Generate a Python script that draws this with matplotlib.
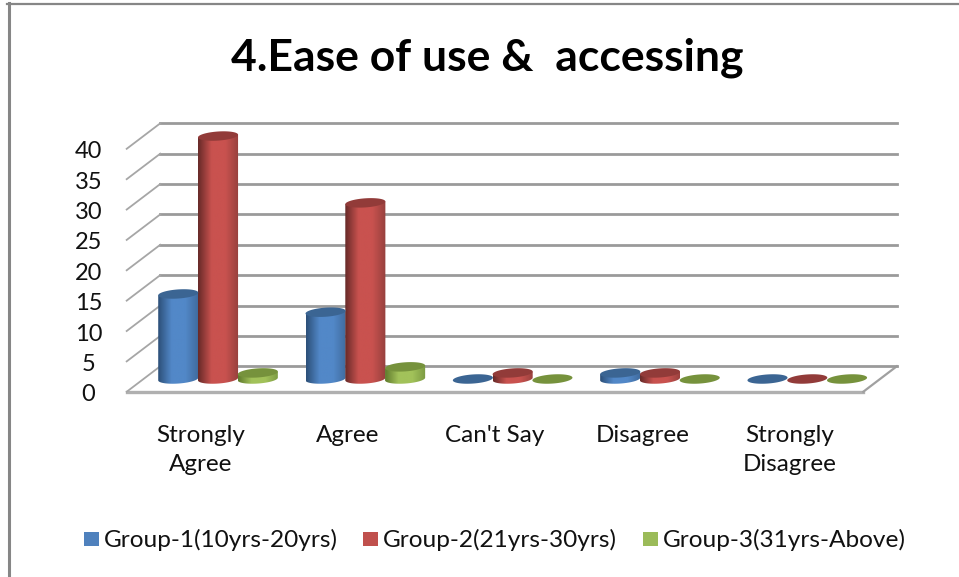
import numpy as np
import matplotlib
matplotlib.use("Agg")
import matplotlib.pyplot as plt
from matplotlib.colors import LinearSegmentedColormap
from matplotlib.patches import Polygon

categories = ["Strongly\nAgree", "Agree", "Can't Say", "Disagree", "Strongly\nDisagree"]
group_names = ["Group-1(10yrs-20yrs)", "Group-2(21yrs-30yrs)", "Group-3(31yrs-Above)"]
group_1 = [14, 11, 0, 1, 0]
group_2 = [40, 29, 1, 1, 0]
group_3 = [1, 2, 0, 0, 0]
y_ticks = [0, 5, 10, 15, 20, 25, 30, 35, 40]

title_text = "4.Ease of use &  accessing"

# shades for each cylinder: left edge, middle, right edge, top cap
palette = [
    ("#2c4f78", "#5288c8", "#3f6a9c", "#3b6593"),
    ("#672a28", "#c9524f", "#96403d", "#923b39"),
    ("#5f7a2c", "#a2c25a", "#7b9a42", "#76923c"),
]
legend_colors = ["#4f81bd", "#c0504d", "#9bbb59"]

plt.rcParams["font.family"] = ["Lato", "DejaVu Sans"]

fig = plt.figure(figsize=(9.59, 5.77), dpi=100, facecolor="white")
ax = fig.add_axes([0, 0, 1, 1])
ax.axis("off")

# 3d look: the back wall is shifted from the front edge
depth_x = 0.228
depth_y = 2.1
wall_left = -0.62
wall_right = 4.38
front_y = -2.1
grid_color = "#9a9a9a"

# floor
ax.plot([wall_left, wall_right], [front_y, front_y], color="#b0b0b0", lw=2.4, zorder=1)
ax.plot([wall_right, wall_right + depth_x], [front_y, front_y + 2 * depth_y],
        color="#a0a0a0", lw=1.6, zorder=1)

# wall gridlines and the slanted ticks on the left
for v in y_ticks:
    back_y = v + depth_y
    ax.plot([wall_left + depth_x, wall_right + depth_x], [back_y, back_y],
            color=grid_color, lw=2.0, zorder=1)
    ax.plot([wall_left, wall_left + depth_x], [v + front_y, back_y],
            color="#a6a6a6", lw=1.3, zorder=1)
    ax.text(wall_left - 0.26, v + front_y - 0.5, str(v), fontsize=17, color="#111111",
            ha="center", va="center")


def draw_cylinder(x, value, colors, width=0.272):
    left_col, mid, right_col, cap = colors
    half = width / 2
    t = np.linspace(0, 2 * np.pi, 120)
    ex = x + half * np.cos(t)
    # slightly tilted ellipse, right side sits higher
    ey = 0.75 * np.sin(t) + 0.22 * np.cos(t)
    if value > 0:
        lower = np.linspace(np.pi, 2 * np.pi, 60)
        px = np.r_[x + half * np.cos(lower), x + half, x - half]
        py = np.r_[0.75 * np.sin(lower) + 0.22 * np.cos(lower),
                   value + 0.22, value - 0.22]
        body = Polygon(np.c_[px, py], closed=True, fc="none", ec="none", zorder=3)
        ax.add_patch(body)
        cmap = LinearSegmentedColormap.from_list("cyl", [left_col, mid, mid, right_col])
        grad = np.linspace(0, 1, 200).reshape(1, -1)
        img = ax.imshow(grad, cmap=cmap, aspect="auto", zorder=3,
                        extent=(x - half, x + half, -1.5, value + 1))
        img.set_clip_path(body)
    ax.add_patch(Polygon(np.c_[ex, value + ey], closed=True, fc=cap, ec="none", zorder=3.1))


for i in range(len(categories)):
    for off, series, colors in zip([-1, 0, 1], [group_1, group_2, group_3], palette):
        draw_cylinder(i + off * 0.27, series[i], colors)

# imshow resets the limits, so they go last
ax.set_xlim(-1.48, 5.03)
ax.set_ylim(-32.6, 62.4)

# category labels under the floor
for i, name in enumerate(categories):
    ax.text(i - 0.12, -7.5, name, fontsize=17.5, color="#111111", ha="center", va="top",
            linespacing=1.5)

fig.text(487 / 959, 0.9, title_text, fontsize=32, fontweight="bold", color="black",
         ha="center", va="center")

# legend along the bottom
legend_x = [84, 363, 643]
for lx, name, col in zip(legend_x, group_names, legend_colors):
    fig.patches.append(plt.Rectangle((lx / 959, 1 - 546 / 577), 14.5 / 959, 14.5 / 577,
                                     transform=fig.transFigure, fc=col, ec="none"))
    fig.text((lx + 19.5) / 959, 1 - 540 / 577, name, fontsize=17.6, color="#111111", va="center")

# outer chart border
fig.add_artist(plt.Line2D([8.5 / 959, 8.5 / 959], [0, 1 - 3 / 577], color="#868686", lw=2.2))
fig.add_artist(plt.Line2D([7 / 959, 1], [1 - 4 / 577, 1 - 4 / 577], color="#868686", lw=1.6))

fig.savefig("out.png", dpi=100)
